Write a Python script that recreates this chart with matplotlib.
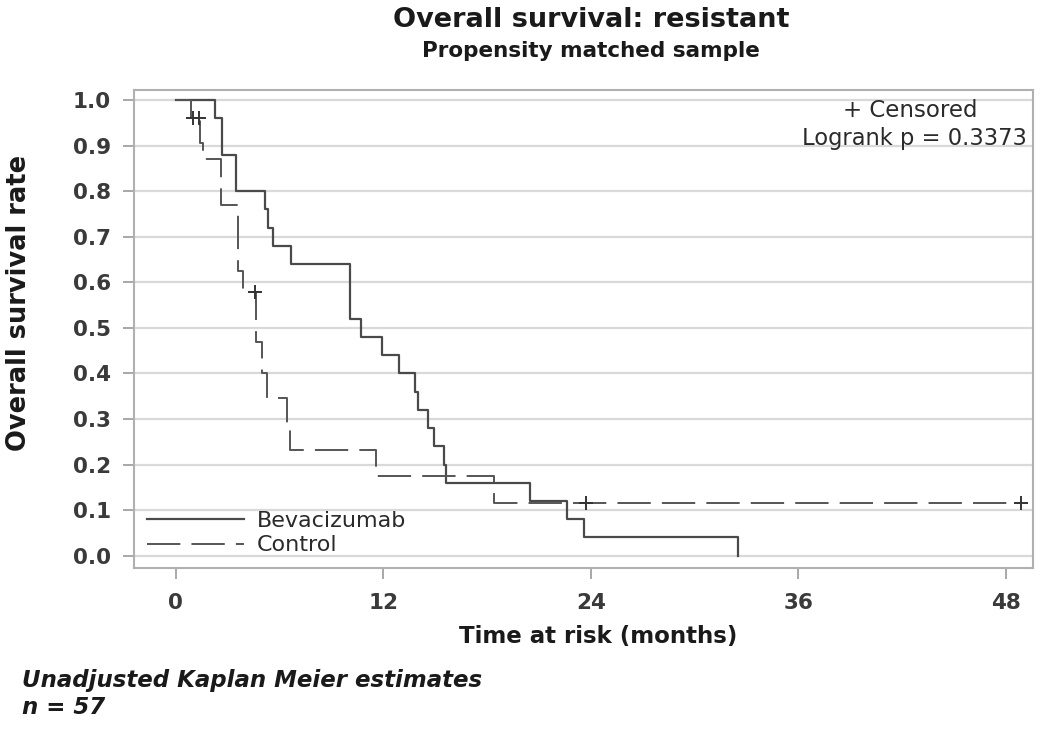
# Kaplan-Meier style chart: overall survival, resistant subgroup
import numpy as np
import matplotlib.pyplot as plt

plt.rcParams['font.family'] = ['DejaVu Sans']
plt.rcParams['lines.scale_dashes'] = False

# Step data (months, survival rate)
bev_time = [0, 2.26, 2.65, 3.5, 5.15, 5.35, 5.6, 6.67, 10.1, 10.7, 11.9, 12.9,
            13.85, 14.0, 14.6, 14.96, 15.5, 15.6, 20.5, 22.6, 23.6, 32.5]
bev_surv = [1.0, 0.96, 0.88, 0.80, 0.76, 0.72, 0.68, 0.64, 0.52, 0.48, 0.44, 0.40,
            0.36, 0.32, 0.28, 0.24, 0.20, 0.16, 0.12, 0.08, 0.04, 0.0]

ctl_time = [0, 0.87, 1.4, 1.55, 2.6, 3.6, 3.9, 4.65, 5.0, 5.3, 6.4, 6.6, 11.6, 18.4, 48.9]
ctl_surv = [1.0, 0.96, 0.905, 0.87, 0.77, 0.625, 0.578, 0.47, 0.40, 0.347, 0.29, 0.232,
            0.174, 0.116, 0.116]

# censored observations (control arm)
cens_time = [1.0, 1.33, 4.6, 23.7, 48.9]
cens_surv = [0.96, 0.96, 0.578, 0.116, 0.116]

xticks = [0, 12, 24, 36, 48]
yticks = np.round(np.arange(0, 1.01, 0.1), 1)

fig = plt.figure(figsize=(10.5, 7.38), dpi=100)
ax = fig.add_axes([0.128, 0.231, 0.856, 0.647])

ax.set_axisbelow(True)
ax.yaxis.grid(True, color='#d9d9d9', lw=1.6)

line_col = '#4a4a4a'
ax.step(bev_time, bev_surv, where='post', color=line_col, lw=1.6, label='Bevacizumab')
ctl, = ax.step(ctl_time, ctl_surv, where='post', color='#555555', lw=1.4, label='Control')
ctl.set_dashes([24, 8])
ax.plot(cens_time, cens_surv, ls='none', marker='+', ms=10, mew=1.4, color='#333333')

ax.set_xlim(-2.4, 49.6)
ax.set_ylim(-0.026, 1.022)
ax.set_xticks(xticks)
ax.set_yticks(yticks)
ax.set_xticklabels([str(t) for t in xticks])
ax.set_yticklabels(['%.1f' % v for v in yticks])
ax.tick_params(colors='#9a9a9a', labelcolor='#3a3a3a', labelsize=15.5, length=8, width=1.2)
for lab in ax.get_xticklabels() + ax.get_yticklabels():
    lab.set_fontweight('bold')
ax.tick_params(axis='x', pad=10)
ax.tick_params(axis='y', pad=9)
for sp in ax.spines.values():
    sp.set_color('#b0b0b0')
    sp.set_linewidth(1.5)

fig.text(0.57, 0.137, 'Time at risk (months)', fontsize=16.5, fontweight='bold',
         ha='center', va='center', color='#1a1a1a')
fig.text(0.018, 0.59, 'Overall survival rate', fontsize=18.5, fontweight='bold',
         rotation=90, ha='center', va='center', color='#1a1a1a')

leg = ax.legend(loc='lower left', bbox_to_anchor=(0.0, 0.0), frameon=False,
                fontsize=16, handlelength=4.4, handletextpad=0.55, labelspacing=0.2,
                borderaxespad=0.15)
for t in leg.get_texts():
    t.set_color('#2a2a2a')

ax.text(0.863, 0.957, '+ Censored', transform=ax.transAxes, fontsize=16.5,
        ha='center', va='center', color='#2a2a2a')
ax.text(0.993, 0.898, 'Logrank p = 0.3373', transform=ax.transAxes, fontsize=16.3,
        ha='right', va='center', color='#2a2a2a')

fig.text(0.563, 0.973, 'Overall survival: resistant', fontsize=19.5, fontweight='bold',
         ha='center', va='center', color='#1a1a1a')
fig.text(0.563, 0.931, 'Propensity matched sample', fontsize=15.5, fontweight='bold',
         ha='center', va='center', color='#1a1a1a')

fig.text(0.021, 0.078, 'Unadjusted Kaplan Meier estimates', fontsize=16.5,
         fontweight='bold', style='italic', ha='left', va='center', color='#1a1a1a')
fig.text(0.021, 0.041, 'n = 57', fontsize=16.5, fontweight='bold', style='italic',
         ha='left', va='center', color='#1a1a1a')

fig.savefig('out.png', dpi=100)
